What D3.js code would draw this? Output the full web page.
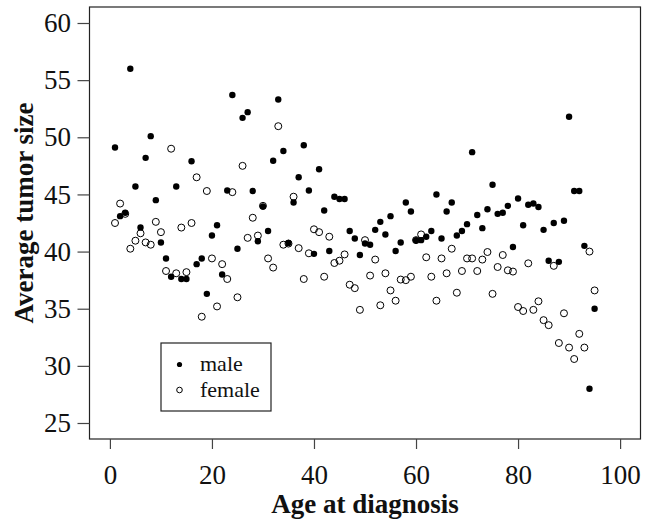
<!DOCTYPE html>
<html>
<head>
<meta charset="utf-8">
<script src="https://cdn.jsdelivr.net/npm/d3@7"></script>
<style>
  html, body { margin: 0; padding: 0; background: #fff; }
  svg { display: block; }
  text { font-family: "Liberation Serif", "DejaVu Serif", serif; fill: #111; }
</style>
</head>
<body>
<svg id="chart" width="651" height="521"></svg>
<script>
// ---- data ----
const maleAge = [1,2,3,4,5,6,7,8,9,10,11,12,13,14,15,16,17,18,19,20,21,22,23,24,25,26,27,28,29,30,31,32,33,34,35,36,37,38,39,40,41,42,43,44,45,46,47,48,49,50,51,52,53,54,55,56,57,58,59,60,61,62,63,64,65,66,67,68,69,70,71,72,73,74,75,76,77,78,79,80,81,82,83,84,85,86,87,88,89,90,91,92,93,94,95];
const maleSize = [49.1,43.1,43.4,56.0,45.7,42.1,48.2,50.1,44.5,40.8,39.4,37.8,45.7,37.6,37.6,47.9,38.9,39.4,36.3,41.4,42.3,38.0,45.35,53.7,40.25,51.7,52.2,45.3,40.9,43.95,41.8,47.95,53.3,48.8,40.75,44.3,46.5,49.3,45.35,39.8,47.2,43.6,40.05,44.8,44.6,44.6,41.8,41.15,39.7,40.7,40.6,41.9,42.6,41.5,43.1,40.05,40.8,44.3,43.5,41.0,41.0,41.3,41.8,45.0,41.15,43.5,44.3,41.4,41.8,42.4,48.7,43.2,42.05,43.7,45.85,43.3,43.4,44.0,40.4,44.65,42.3,44.1,44.2,43.9,41.9,39.2,42.5,39.1,42.7,51.8,45.3,45.3,40.5,28.0,35.0];

const femaleAge = [1,2,3,4,5,6,7,8,9,10,11,12,13,14,15,16,17,18,19,20,21,22,23,24,25,26,27,28,29,30,31,32,33,34,35,36,37,38,39,40,41,42,43,44,45,46,47,48,49,50,51,52,53,54,55,56,57,58,59,60,61,62,63,64,65,66,67,68,69,70,71,72,73,74,75,76,77,78,79,80,81,82,83,84,85,86,87,88,89,90,91,92,93,94,95];
const femaleSize = [42.5,44.2,43.3,40.25,40.95,41.6,40.8,40.6,42.6,41.7,38.3,49.0,38.1,42.1,38.2,42.5,46.5,34.3,45.3,39.4,35.2,38.9,37.6,45.2,36.0,47.5,41.2,42.96,41.4,44.0,39.4,38.6,50.97,40.6,40.7,44.8,40.3,37.6,39.85,41.95,41.7,37.8,41.3,39.0,39.2,39.75,37.1,36.8,34.9,41.0,37.9,39.3,35.3,38.1,36.6,35.7,37.55,37.5,37.8,41.0,41.5,39.5,37.8,35.7,39.4,38.1,40.25,36.4,38.3,39.4,39.4,38.3,39.3,39.96,36.3,38.65,39.7,38.36,38.25,35.15,34.8,38.97,34.9,35.65,34.0,33.56,38.75,32.0,34.6,31.6,30.6,32.8,31.6,40.0,36.6];

const xTicks = [0,20,40,60,80,100];
const yTicks = [25,30,35,40,45,50,55,60];
const xTitle = "Age at diagnosis";
const yTitle = "Average tumor size";
const legendLabels = ["male","female"];

// ---- layout ----
const L = 89.5, R = 640.5, T = 7, B = 439;
const svg = d3.select("#chart");
const x = d3.scaleLinear().domain([-4,104]).range([L,R]);
const y = d3.scaleLinear().domain([23.6,61.4]).range([B,T]);

// box
svg.append("rect").attr("x",L).attr("y",T).attr("width",R-L).attr("height",B-T)
  .attr("fill","none").attr("stroke","#222").attr("stroke-width",1.2);

// axes
const gx = svg.append("g").attr("transform",`translate(0,${B})`)
  .call(d3.axisBottom(x).tickValues(xTicks).tickSize(10).tickFormat(d3.format("d")));
gx.select(".domain").remove();
gx.selectAll(".tick line").attr("stroke","#444").attr("stroke-width",1.2);
gx.selectAll(".tick text").attr("y",26).attr("font-size",27).attr("fill","#111")
  .attr("font-family","Liberation Serif, serif");

const gy = svg.append("g").attr("transform",`translate(${L},0)`)
  .call(d3.axisLeft(y).tickValues(yTicks).tickSize(12).tickPadding(6.5).tickFormat(d3.format("d")));
gy.select(".domain").remove();
gy.selectAll(".tick line").attr("stroke","#444").attr("stroke-width",1.2);
gy.selectAll(".tick text").attr("font-size",27).attr("fill","#111")
  .attr("font-family","Liberation Serif, serif");

// titles
svg.append("text").attr("x",(L+R)/2).attr("y",513).attr("text-anchor","middle")
  .attr("font-size",27).attr("font-weight","bold").text(xTitle);
svg.append("text").attr("transform",`translate(33,213) rotate(-90)`)
  .attr("text-anchor","middle").attr("font-size",27).attr("font-weight","bold").text(yTitle);

// points
const male = maleAge.map((a,i)=>({a, v: maleSize[i]}));
const female = femaleAge.map((a,i)=>({a, v: femaleSize[i]}));

svg.append("g").selectAll("circle").data(male).join("circle")
  .attr("cx",d=>x(d.a)).attr("cy",d=>y(d.v)).attr("r",3.2).attr("fill","#000");
svg.append("g").selectAll("circle").data(female).join("circle")
  .attr("cx",d=>x(d.a)).attr("cy",d=>y(d.v)).attr("r",3.5)
  .attr("fill","none").attr("stroke","#000").attr("stroke-width",1);

// legend
const lg = svg.append("g");
lg.append("rect").attr("x",161).attr("y",343).attr("width",110).attr("height",68)
  .attr("fill","#fff").attr("stroke","#222").attr("stroke-width",1.2);
lg.append("circle").attr("cx",179.5).attr("cy",364.5).attr("r",2.6).attr("fill","#000");
lg.append("circle").attr("cx",179.5).attr("cy",390).attr("r",2.8).attr("fill","none").attr("stroke","#000").attr("stroke-width",1);
lg.append("text").attr("x",200).attr("y",371).attr("font-size",22).text(legendLabels[0]);
lg.append("text").attr("x",200).attr("y",397).attr("font-size",22).text(legendLabels[1]);
</script>
</body>
</html>
